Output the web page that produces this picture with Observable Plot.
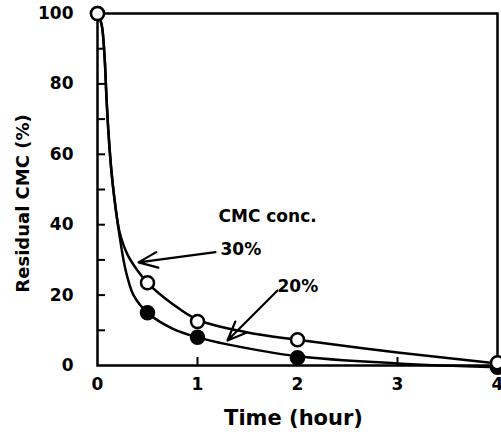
<!DOCTYPE html>
<html><head><meta charset="utf-8">
<script src="https://cdn.jsdelivr.net/npm/d3@7"></script>
<script src="https://cdn.jsdelivr.net/npm/@observablehq/plot@0.6"></script>
<style>body{margin:0;background:#fff} svg{display:block}</style>
</head><body><div id="chart"></div>
<script>
// Measured points
const timesMeasured = [0, 0.5, 1, 2, 4];
const conc30 = [100, 23.5, 12.5, 7.3, 0.8];
const conc20 = [100, 15, 8, 2.2, -0.5];
// Fitted curves
const curve30T = [0, 0.04, 0.07, 0.09, 0.11, 0.14, 0.18, 0.22, 0.3, 0.4, 0.5, 0.75, 1, 1.5, 2, 3, 4];
const curve30V = [100, 97, 88, 76, 66, 55, 45, 38, 31.5, 27, 23.5, 17.5, 13, 9.4, 7.3, 3.7, 0.6];
const curve20T = [0, 0.04, 0.07, 0.09, 0.11, 0.14, 0.18, 0.22, 0.26, 0.3, 0.36, 0.5, 0.75, 1, 1.3, 2, 3, 4];
const curve20V = [100, 97, 88, 76, 66, 55, 45, 37, 30, 25, 20, 15, 10.5, 8, 6, 2.6, 0.6, -0.5];
// Axis ticks
const xTickLabels = [0, 1, 2, 3, 4];
const xInnerTicks = [1, 2, 3];
const yTickLabels = [0, 20, 40, 60, 80, 100];
const yInnerTicks = [10, 20, 30, 40, 50, 60, 70, 80, 90];
// Annotations
const noteText = ["CMC conc.", "30%", "20%"];
const noteT = [1.21, 1.23, 1.80];
const noteV = [42.3, 33, 22.3];
const arrowFromT = [1.18, 1.80];
const arrowFromV = [32.2, 21.3];
const arrowToT = [0.41, 1.30];
const arrowToV = [29.3, 7.1];

const pts30 = timesMeasured.map((t, i) => ({t, v: conc30[i]}));
const pts20 = timesMeasured.map((t, i) => ({t, v: conc20[i]}));
const line30 = curve30T.map((t, i) => ({t, v: curve30V[i]}));
const line20 = curve20T.map((t, i) => ({t, v: curve20V[i]}));
const notes = noteText.map((s, i) => ({s, t: noteT[i], v: noteV[i]}));
const arrows = arrowFromT.map((t, i) => ({t1: t, v1: arrowFromV[i], t2: arrowToT[i], v2: arrowToV[i]}));

const W = 501, H = 440, ML = 97, MR = 4, MT = 13, MB = 75, TICK = 8;

const chart = Plot.plot({
  width: W,
  height: H,
  marginLeft: ML,
  marginRight: MR,
  marginTop: MT,
  marginBottom: MB,
  style: {fontFamily: "'DejaVu Sans', sans-serif", fontWeight: "bold", fontSize: "17px", color: "#000", background: "#fff"},
  x: {domain: [0, 4]},
  y: {domain: [0, 100]},
  marks: [
    Plot.axisX({ticks: xTickLabels, tickFormat: d => String(d), tickSize: 0, tickPadding: 12, label: null, fontSize: 17}),
    Plot.axisY({ticks: yTickLabels, tickFormat: d => String(d), tickSize: 0, tickPadding: 24, label: null, fontSize: 17}),
    Plot.tickX(xInnerTicks, {x: d => d, insetTop: H - MT - MB - TICK, stroke: "#000", strokeWidth: 2}),
    Plot.tickY(yInnerTicks, {y: d => d, insetRight: W - ML - MR - TICK, stroke: "#000", strokeWidth: 2}),
    Plot.frame({stroke: "#000", strokeWidth: 2.5}),
    Plot.line(line20, {x: "t", y: "v", curve: "catmull-rom", stroke: "#000", strokeWidth: 2.5}),
    Plot.line(line30, {x: "t", y: "v", curve: "catmull-rom", stroke: "#000", strokeWidth: 2.5}),
    Plot.dot(pts20, {x: "t", y: "v", r: 7, fill: "#000", stroke: "#000"}),
    Plot.dot(pts30, {x: "t", y: "v", r: 6.5, fill: "#fff", stroke: "#000", strokeWidth: 2.5}),
    Plot.arrow(arrows, {x1: "t1", y1: "v1", x2: "t2", y2: "v2", stroke: "#000", strokeWidth: 2.2, headLength: 14, headAngle: 45}),
    Plot.text(notes, {x: "t", y: "v", text: "s", textAnchor: "start", fontSize: 17, fontWeight: "bold", fill: "#000"}),
    Plot.text(["Time (hour)"], {frameAnchor: "bottom", textAnchor: "middle", lineAnchor: "middle", dx: -4, dy: 53, fontSize: 21, fontWeight: "bold", fill: "#000"}),
    Plot.text(["Residual CMC (%)"], {frameAnchor: "left", rotate: -90, textAnchor: "middle", lineAnchor: "middle", dx: -74, dy: 14, fontSize: 18, fontWeight: "bold", fill: "#000"})
  ]
});
document.getElementById("chart").appendChild(chart);
</script>
</body></html>
